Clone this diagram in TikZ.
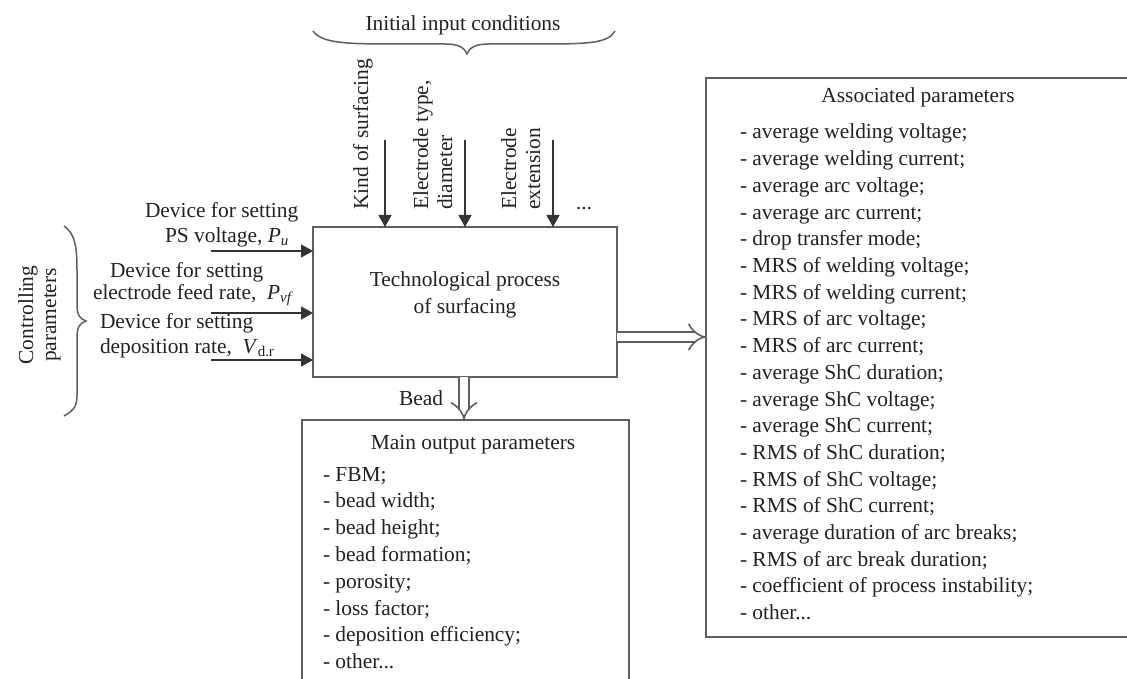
\documentclass[tikz,border=0pt]{standalone}
\usepackage{fontspec}
\setmainfont{Liberation Serif}
\usetikzlibrary{arrows.meta}
\definecolor{linec}{HTML}{5E5E5E}
\definecolor{arrc}{HTML}{333333}
\definecolor{txtc}{HTML}{222222}
\def\mydots{...}
\begin{document}
\begin{tikzpicture}[x=1pt,y=-1pt,
  txt/.style={inner sep=0pt, outer sep=0pt, text=txtc, font=\fontsize{21.4}{26.7}\selectfont},
  box/.style={draw=linec, line width=1.8pt, inner sep=0pt, outer sep=0pt, anchor=north west},
  arr/.style={draw=arrc, line width=1.6pt, -{Triangle[length=12pt,width=13pt]}},
  dbl/.style={draw=linec, line width=1.6pt, double=white, double distance=8pt, -{Implies}},
  brc/.style={draw=linec, line width=1.5pt}]
\useasboundingbox (0,0) rectangle (1127,679);
\fill[white] (0,0) rectangle (1127,679);

% boxes
\node[box, minimum width=304pt, minimum height=150pt] (proc) at (313,227) {};
\node[box, minimum width=327pt, minimum height=300pt] (outp) at (302,420) {};
\node[box, minimum width=450pt, minimum height=559pt] (assoc) at (706,78) {};

\node[txt, align=center] (ptext) at (465,295) {Technological process\\of surfacing};

% top brace and label
\node[txt, anchor=base] (init) at (463,31) {Initial input conditions};
\draw[brc] (313,31) .. controls (322,44) and (350,44) .. (400,44) -- (445,44)
  .. controls (458,44) and (464,47) .. (467,54)
  .. controls (470,47) and (476,44) .. (489,44) -- (535,44)
  .. controls (585,44) and (608,44) .. (615,31);

% top input arrows
\coordinate (t1) at (385,140);
\coordinate (t2) at (465,140);
\coordinate (t3) at (553,140);
\draw[arr] (t1) -- (t1 |- proc.north);
\draw[arr] (t2) -- (t2 |- proc.north);
\draw[arr] (t3) -- (t3 |- proc.north);
\node[txt, rotate=90, anchor=base west] (k1) at (368,210) {Kind of surfacing};
\node[txt, rotate=90, anchor=base west] (k2a) at (428,210) {Electrode type,};
\node[txt, rotate=90, anchor=base west] (k2b) at (452,210) {diameter};
\node[txt, rotate=90, anchor=base west] (k3a) at (516,210) {Electrode};
\node[txt, rotate=90, anchor=base west] (k3b) at (540,210) {extension};
\node[txt, anchor=base] (dots) at (584,210) {\mydots};

% left brace and label
\draw[brc] (64,226) .. controls (76,234) and (77,250) .. (77,270) -- (77,305)
  .. controls (77,315) and (80,319) .. (86,321)
  .. controls (80,323) and (77,327) .. (77,337) -- (77,395)
  .. controls (77,405) and (75,410) .. (64,416);
\node[txt, rotate=90, anchor=base] (cp1) at (33,315) {Controlling};
\node[txt, rotate=90, anchor=base] (cp2) at (56,315) {parameters};

% left input arrows
\coordinate (l1) at (211,251);
\coordinate (l2) at (211,313);
\coordinate (l3) at (211,360);
\draw[arr] (l1) -- (l1 -| proc.west);
\draw[arr] (l2) -- (l2 -| proc.west);
\draw[arr] (l3) -- (l3 -| proc.west);
\node[txt, anchor=base west] (d1a) at (145,218) {Device for setting};
\node[txt, anchor=base west] (d1b) at (165,242) {PS voltage, \textit{P}\textsubscript{\textit{u}}};
\node[txt, anchor=base west] (d2a) at (110,277) {Device for setting};
\node[txt, anchor=base west] (d2b) at (93,299) {electrode feed rate,\ \ \textit{P}\textsubscript{\textit{vf}}};
\node[txt, anchor=base west] (d3a) at (100,328) {Device for setting};
\node[txt, anchor=base west] (d3b) at (100,353) {deposition rate,\ \ \textit{V}\textsubscript{d.r}};

% double arrows
\coordinate (dy) at (0,337);
\draw[dbl] (proc.east |- dy) -- (assoc.west |- dy);
\coordinate (bx) at (464,0);
\draw[dbl] (proc.south -| bx) -- (outp.north -| bx);
\node[txt, anchor=base] (bead) at (421,405) {Bead};

% main output parameters
\node[txt, anchor=base] (otitle) at (473,449) {Main output parameters};
\foreach \t [count=\i from 0] in {- FBM;, - bead width;, - bead height;, - bead formation;, - porosity;, - loss factor;, - deposition efficiency;, - other\mydots}
  \node[txt, anchor=base west] (o\i) at (323,481+26.8*\i) {\t};

% associated parameters
\node[txt, anchor=base] (atitle) at (918,103) {Associated parameters};
\foreach \t [count=\i from 0] in {- average welding voltage;, - average welding current;, - average arc voltage;, - average arc current;, - drop transfer mode;, - MRS of welding voltage;, - MRS of welding current;, - MRS of arc voltage;, - MRS of arc current;, - average ShC duration;, - average ShC voltage;, - average ShC current;, - RMS of ShC duration;, - RMS of ShC voltage;, - RMS of ShC current;, - average duration of arc breaks;, - RMS of arc break duration;, - coefficient of process instability;, - other\mydots}
  \node[txt, anchor=base west] (a\i) at (740,139+26.7*\i) {\t};
\end{tikzpicture}
\end{document}
